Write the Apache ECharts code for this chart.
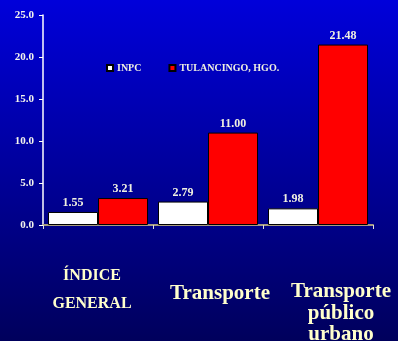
<!DOCTYPE html>
<html>
<head>
<meta charset="utf-8">
<script src="https://cdn.jsdelivr.net/npm/echarts@6/dist/echarts.min.js"></script>
<style>
  html, body { margin: 0; padding: 0; background: #000080; }
  #chart { width: 398px; height: 341px; }
</style>
</head>
<body>
<div id="chart"></div>
<script>
// Price index variation: national INPC vs. Tulancingo, Hgo.
const categories = ['ÍNDICE GENERAL', 'Transporte', 'Transporte público urbano'];
const seriesNames = ['INPC', 'TULANCINGO, HGO.'];
const inpcValues = [1.55, 2.79, 1.98];
const tulancingoValues = [3.21, 11.00, 21.48];
const yTicks = [0, 5, 10, 15, 20, 25];

const serif = "'Liberation Serif', 'Times New Roman', serif";
const cream = '#FFFFCC';

// Each category label has its own size and offset, as laid out on the slide.
function categoryLabel(value, index) {
  if (index === 0) {
    return value.split(' ').map(w => '{g|' + w + '}').join('\n');
  }
  if (index === 1) {
    return '{s1| }\n{t|' + value + '}';
  }
  const words = value.split(' ');
  return '{s2| }\n' + words.map(w => '{u|' + w + '}').join('\n');
}

const chart = echarts.init(document.getElementById('chart'), null, { renderer: 'canvas' });

chart.setOption({
  backgroundColor: {
    type: 'linear', x: 0, y: 0, x2: 0, y2: 1,
    colorStops: [
      { offset: 0, color: '#0000DA' },
      { offset: 1, color: '#00005C' }
    ]
  },
  animation: false,
  grid: { left: 43, right: 25, top: 15, bottom: 116, outerBoundsMode: 'none', containLabel: false },
  legend: {
    data: seriesNames,
    left: 106,
    top: 63,
    padding: 0,
    itemWidth: 6,
    itemHeight: 6,
    itemGap: 27,
    icon: 'rect',
    textStyle: { color: '#F0F0E0', fontFamily: serif, fontWeight: 'bold', fontSize: 10, padding: [0, 0, 0, -1] }
  },
  xAxis: {
    type: 'category',
    data: categories,
    axisLine: { lineStyle: { color: '#A89C80', width: 2 } },
    axisTick: { show: true, length: 4, lineStyle: { color: '#DDDDDD', width: 1 } },
    axisLabel: {
      interval: 0,
      margin: 37,
      formatter: categoryLabel,
      rich: {
        g: { fontFamily: serif, fontWeight: 'bold', fontSize: 16, lineHeight: 28, color: cream, padding: [0, 12, 0, 0] },
        s1: { fontSize: 4, lineHeight: 18 },
        t: { fontFamily: serif, fontWeight: 'bold', fontSize: 21, lineHeight: 28, color: cream, padding: [0, 0, 0, 24] },
        s2: { fontSize: 4, lineHeight: 19 },
        u: { fontFamily: serif, fontWeight: 'bold', fontSize: 21, lineHeight: 21.5, color: cream, padding: [0, 0, 0, 46] }
      }
    }
  },
  yAxis: {
    type: 'value',
    min: yTicks[0],
    max: yTicks[yTicks.length - 1],
    interval: yTicks[1] - yTicks[0],
    splitLine: { show: false },
    axisLine: { show: true, lineStyle: { color: '#FFFFFF', width: 1.5 } },
    axisTick: { show: true, length: 4, lineStyle: { color: '#FFFFFF' } },
    axisLabel: {
      margin: 9,
      color: '#F4F4EC',
      fontFamily: serif,
      fontWeight: 'bold',
      fontSize: 11,
      formatter: v => v.toFixed(1)
    }
  },
  series: [
    {
      name: seriesNames[0],
      type: 'bar',
      data: inpcValues,
      barWidth: 50,
      barGap: '0%',
      itemStyle: { color: '#FFFFFF', borderColor: '#000000', borderWidth: 1 },
      label: {
        show: true, position: 'top', distance: 3,
        color: '#F0F0E0', fontFamily: serif, fontWeight: 'bold', fontSize: 12,
        formatter: p => p.value.toFixed(2)
      }
    },
    {
      name: seriesNames[1],
      type: 'bar',
      data: tulancingoValues,
      barWidth: 50,
      barGap: '0%',
      itemStyle: { color: '#FF0000', borderColor: '#000000', borderWidth: 1 },
      label: {
        show: true, position: 'top', distance: 3,
        color: '#F0F0E0', fontFamily: serif, fontWeight: 'bold', fontSize: 12,
        formatter: p => p.value.toFixed(2)
      }
    }
  ]
});
</script>
</body>
</html>
